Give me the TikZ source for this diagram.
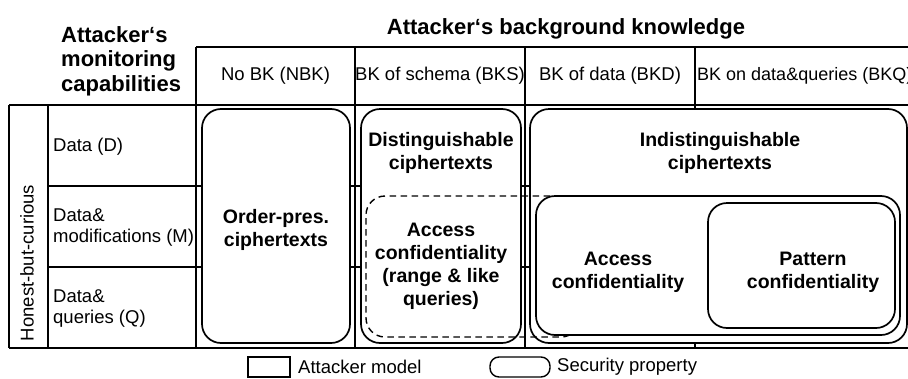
\documentclass[tikz,border=0pt]{standalone}
\usepackage{fontspec}
\setmainfont{Liberation Sans}
\begin{document}
\begin{tikzpicture}[x=1pt,y=-1pt,
  grid/.style={line width=1.5pt,black},
  secbox/.style={draw=black,line width=1.7pt,fill=white,rounded corners=19pt,inner sep=0pt},
  dashbox/.style={draw=black,line width=1.4pt,dash pattern=on 6.5pt off 4.5pt,rounded corners=19pt},
  hdr/.style={font=\fontsize{22}{24.5}\selectfont\bfseries,inner sep=0pt},
  col/.style={font=\fontsize{18.5}{22}\selectfont,inner sep=0pt},
  rowlab/.style={font=\fontsize{18.5}{21}\selectfont,inner sep=0pt,anchor=west,align=left},
  boxtxt/.style={font=\fontsize{19.5}{23}\selectfont\bfseries,inner sep=0pt,align=center},
  legtxt/.style={font=\fontsize{18.5}{22}\selectfont,inner sep=0pt,anchor=west}]
\useasboundingbox (0,0) rectangle (908,378);
\fill[white] (0,0) rectangle (908,378);

% table grid
\draw[grid] (196,47) -- (908,47);
\draw[grid] (9,105) -- (908,105);
\draw[grid] (9,348) -- (908,348);
\draw[grid] (48,186) -- (908,186);
\draw[grid] (48,267) -- (908,267);
\draw[grid] (9,105) -- (9,348);
\draw[grid] (48,105) -- (48,348);
\foreach \x in {196,355,525,695} \draw[grid] (\x,47) -- (\x,348);

% headers
\node[hdr,anchor=west,align=left] (mon) at (61,61) {Attacker‘s\\monitoring\\capabilities};
\node[hdr] (bk) at (566,29) {Attacker‘s background knowledge};
\node[col] (nbk) at (275.5,76) {No BK (NBK)};
\node[col] (bks) at (440,76) {BK of schema (BKS)};
\node[col] (bkd) at (610,76) {BK of data (BKD)};
\node[col,anchor=west,font=\fontsize{18}{22}\selectfont] (bkq) at (697,76) {BK on data\&queries (BKQ)};

% row labels
\node[col,rotate=90] (hbc) at (27,263) {Honest-but-curious};
\node[rowlab] (rd) at (53,147) {Data (D)};
\node[rowlab] (rm) at (53,228) {Data\&\\modifications (M)};
\node[rowlab] (rq) at (53,309) {Data\&\\queries (Q)};

% boxes
\node[secbox,minimum width=148pt,minimum height=234pt] (order) at (276,226) {};
\node[secbox,minimum width=160pt,minimum height=234pt] (dist) at (441,226) {};
\node[secbox,minimum width=377pt,minimum height=234pt] (indist) at (718.5,226) {};
\node[dashbox,minimum width=214pt,minimum height=141pt] (rangebox) at (473,266.5) {};
\node[secbox,minimum width=364pt,minimum height=139pt] (acc) at (718,265.5) {};
\node[secbox,minimum width=187pt,minimum height=125pt] (pat) at (801.5,265.5) {};

% box texts
\node[boxtxt] (ordert) at (276,230) {Order-pres.\\ciphertexts};
\node[boxtxt] (distt) at (441,153) {Distinguishable\\ciphertexts};
\node[boxtxt] (ranget) at (441,266) {Access\\confidentiality\\(range \& like\\queries)};
\node[boxtxt] (indistt) at (720,153) {Indistinguishable\\ciphertexts};
\node[boxtxt] (acct) at (618,272) {Access\\confidentiality};
\node[boxtxt] (patt) at (813,272) {Pattern\\confidentiality};

% legend
\node[draw=black,line width=1.4pt,minimum width=42pt,minimum height=20pt,inner sep=0pt] (legam) at (269,367) {};
\node[legtxt] (legamt) at (298,367) {Attacker model};
\node[draw=black,line width=1.4pt,rounded corners=9pt,minimum width=60pt,minimum height=20pt,inner sep=0pt] (legsp) at (520,367) {};
\node[legtxt] (legspt) at (557,367) {Security property};
\end{tikzpicture}
\end{document}
